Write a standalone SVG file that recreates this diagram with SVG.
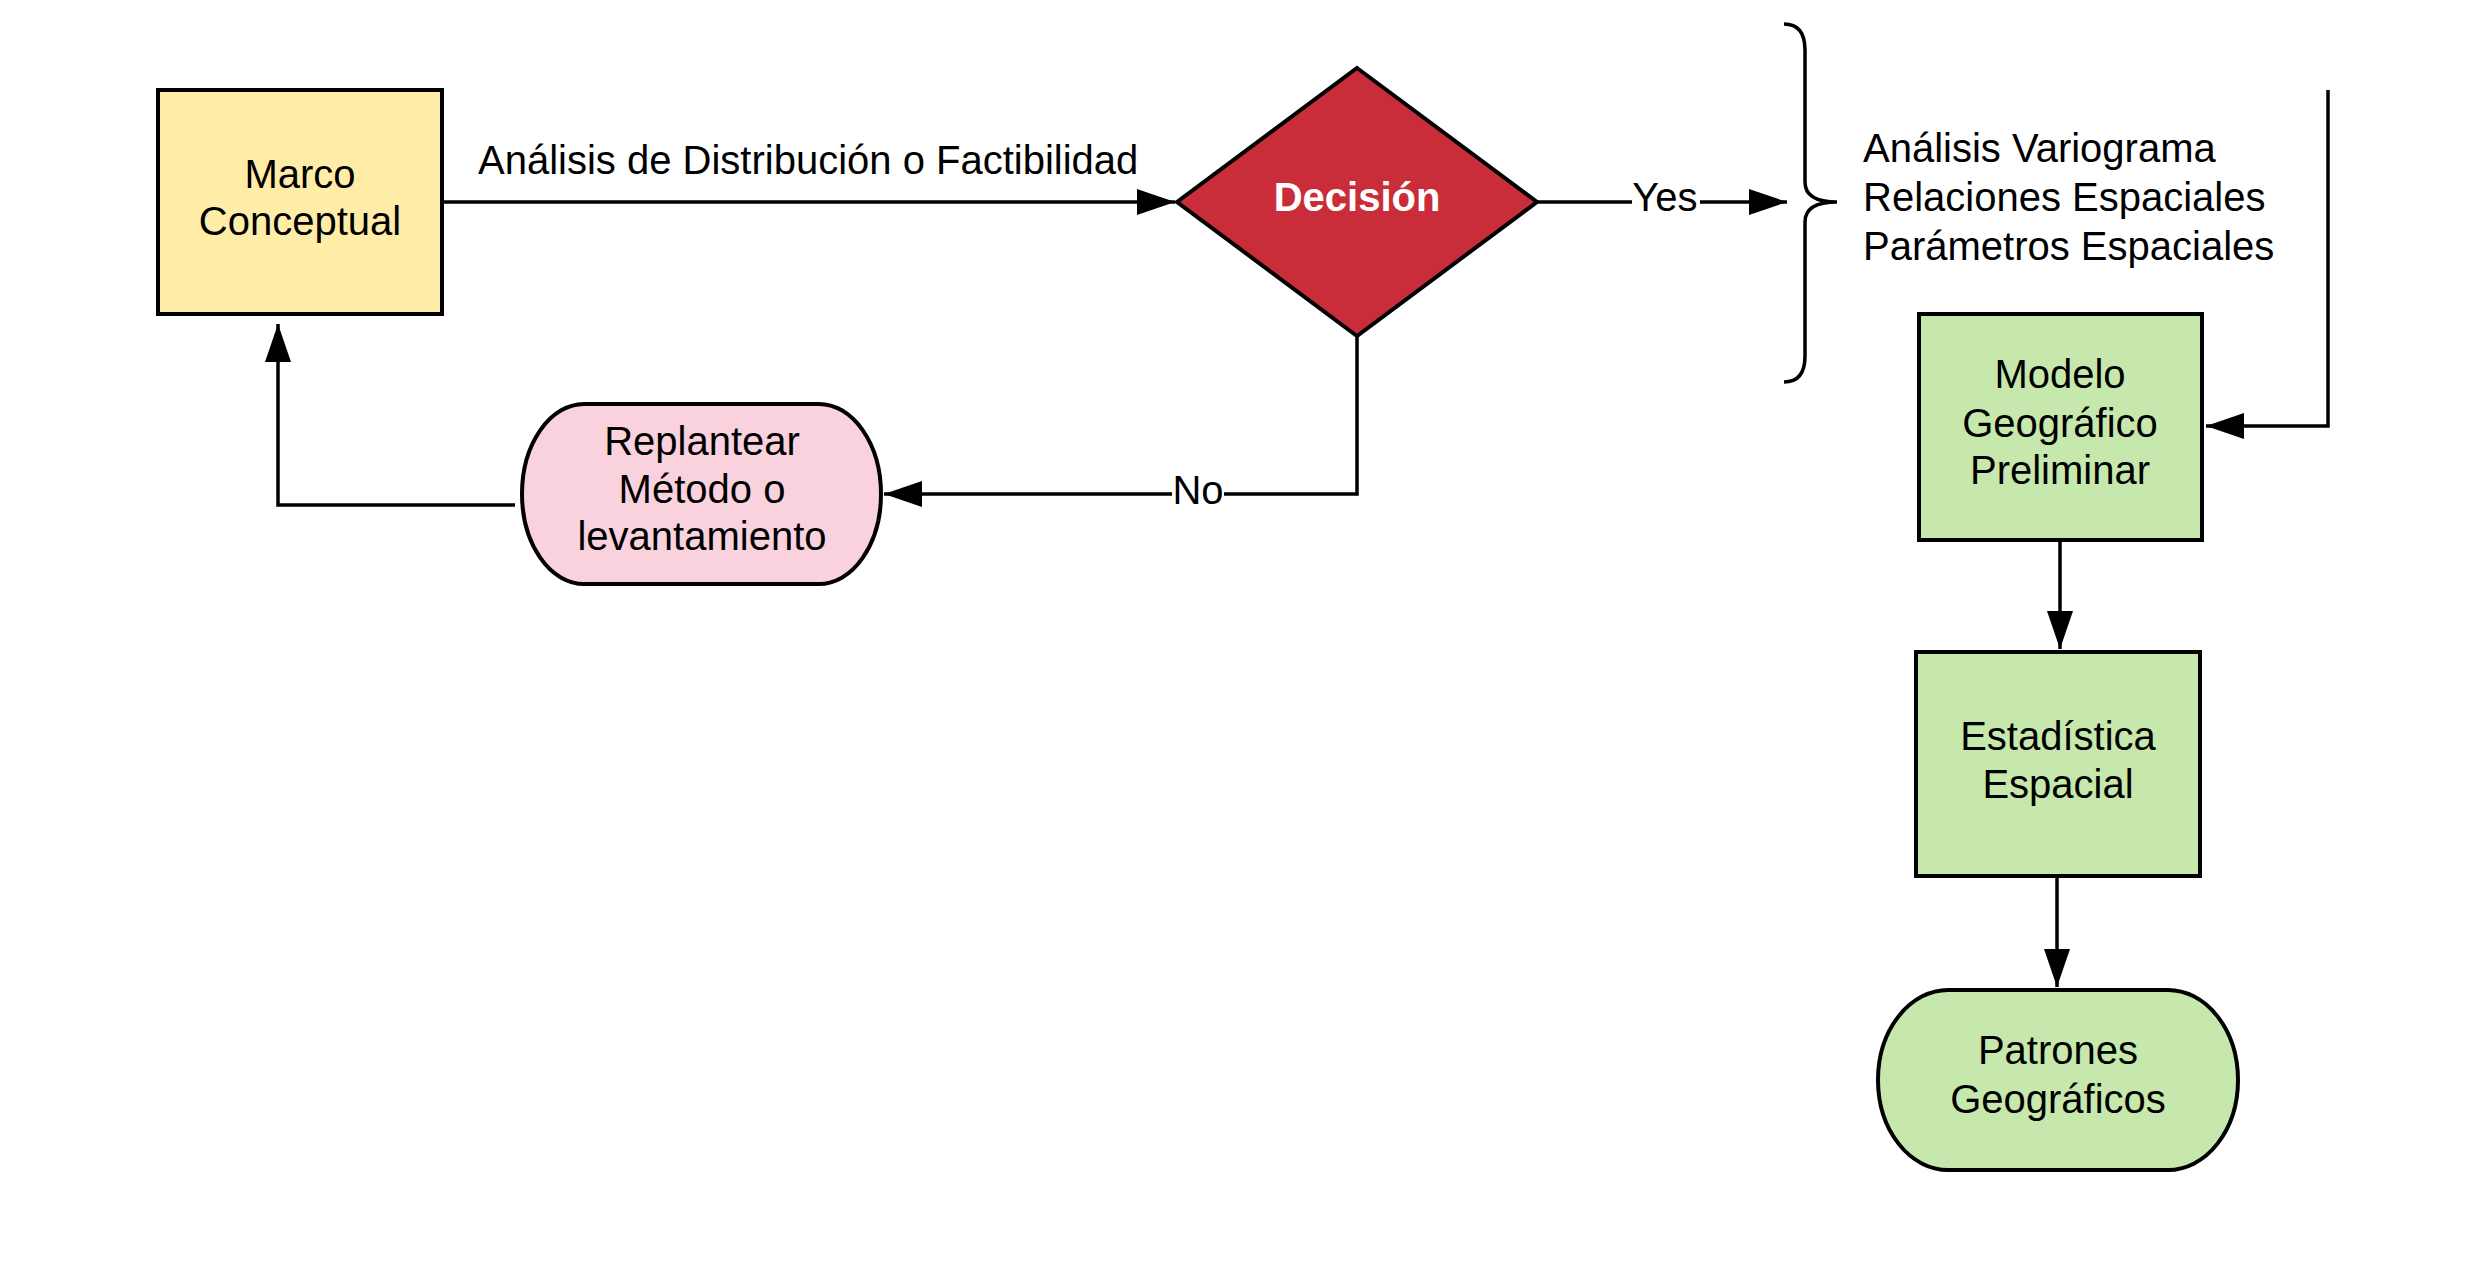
<svg xmlns="http://www.w3.org/2000/svg" width="2475" height="1278" viewBox="0 0 2475 1278">
<defs>
<style>
.t{font-family:"Liberation Sans",Arial,sans-serif;font-size:40px;fill:#000;text-anchor:middle}
.tl{font-family:"Liberation Sans",Arial,sans-serif;font-size:40px;fill:#000}
.box{stroke:#000;stroke-width:4}
.ln{fill:none;stroke:#000;stroke-width:3.5}
</style>
<marker id="ah" markerUnits="userSpaceOnUse" markerWidth="40" markerHeight="28" refX="38" refY="13" orient="auto">
<path d="M0,0 L38,13 L0,26 z" fill="#000"/>
</marker>
</defs>
<rect width="2475" height="1278" fill="#fff"/>
<g id="connectors">
<path class="ln" d="M442,202 L1175,202" marker-end="url(#ah)"/>
<path class="ln" d="M1537,202 L1787,202" marker-end="url(#ah)"/>
<path class="ln" d="M1357,336 L1357,494 L884,494" marker-end="url(#ah)"/>
<path class="ln" d="M515,505 L278,505 L278,324" marker-end="url(#ah)"/>
<path class="ln" d="M2328,90 L2328,426 L2206,426" marker-end="url(#ah)"/>
<path class="ln" d="M2060,540 L2060,649" marker-end="url(#ah)"/>
<path class="ln" d="M2057,876 L2057,987" marker-end="url(#ah)"/>
<rect x="1632" y="178" width="68" height="44" fill="#fff"/>
<text class="t" x="1665" y="211">Yes</text>
<rect x="1172" y="470" width="52" height="44" fill="#fff"/>
<text class="t" x="1198" y="504">No</text>
<text class="tl" x="478" y="174">Análisis de Distribución o Factibilidad</text>
</g>
<g id="brace">
<path class="ln" d="M1784,24 Q1805,24 1805,50 L1805,182 Q1805,202 1837,202 Q1805,202 1805,222 L1805,356 Q1805,382 1784,382"/>
<text class="tl" x="1863" y="162">Análisis Variograma</text>
<text class="tl" x="1863" y="211">Relaciones Espaciales</text>
<text class="tl" x="1863" y="260">Parámetros Espaciales</text>
</g>
<g id="marco">
<rect class="box" x="158" y="90" width="284" height="224" fill="#FFEDA7"/>
<text class="t" x="300" y="188">Marco</text>
<text class="t" x="300" y="235">Conceptual</text>
</g>
<g id="decision">
<polygon class="box" points="1357,68 1537,202 1357,336 1177,202" fill="#C92D39"/>
<text class="t" x="1357" y="211" style="font-weight:bold;fill:#fff">Decisión</text>
</g>
<g id="replantear">
<rect class="box" x="522" y="404" width="359" height="180" rx="62" ry="90" fill="#F9D2DE"/>
<text class="t" x="702" y="455">Replantear</text>
<text class="t" x="702" y="503">Método o</text>
<text class="t" x="702" y="550">levantamiento</text>
</g>
<g id="modelo">
<rect class="box" x="1919" y="314" width="283" height="226" fill="#C7E8AC"/>
<text class="t" x="2060" y="388">Modelo</text>
<text class="t" x="2060" y="437">Geográfico</text>
<text class="t" x="2060" y="484">Preliminar</text>
</g>
<g id="estadistica">
<rect class="box" x="1916" y="652" width="284" height="224" fill="#C7E8AC"/>
<text class="t" x="2058" y="750">Estadística</text>
<text class="t" x="2058" y="798">Espacial</text>
</g>
<g id="patrones">
<rect class="box" x="1878" y="990" width="360" height="180" rx="70" ry="90" fill="#C7E8AC"/>
<text class="t" x="2058" y="1064">Patrones</text>
<text class="t" x="2058" y="1113">Geográficos</text>
</g>
</svg>
